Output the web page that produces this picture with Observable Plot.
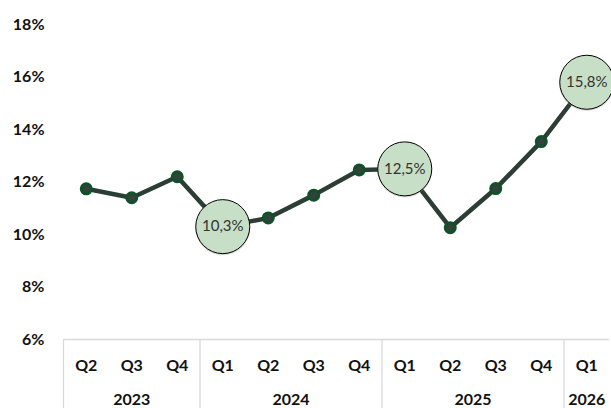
<!DOCTYPE html>
<html>
<head>
<meta charset="utf-8">
<script src="https://cdn.jsdelivr.net/npm/d3@7"></script>
<script src="https://cdn.jsdelivr.net/npm/@observablehq/plot@0.6"></script>
<style>
  html, body { margin: 0; padding: 0; background: #fff; }
  #chart svg { display: block; }
</style>
</head>
<body>
<div id="chart"></div>
<script>
const quarters = ["Q2","Q3","Q4","Q1","Q2","Q3","Q4","Q1","Q2","Q3","Q4","Q1"];
const years    = ["2023","2023","2023","2024","2024","2024","2024","2025","2025","2025","2025","2026"];
const values   = [11.74, 11.4, 12.2, 10.3, 10.63, 11.5, 12.46, 12.5, 10.26, 11.75, 13.54, 15.8];
const highlighted = [3, 7, 11];
const yTicks = [6, 8, 10, 12, 14, 16, 18];

const data = values.map((v, i) => ({i, q: quarters[i], year: years[i], v}));

// year groups: center and separators
const yearNames = [...new Set(years)];
const yearGroups = yearNames.map(y => {
  const idx = data.filter(d => d.year === y).map(d => d.i);
  return {year: y, center: d3.mean([d3.min(idx), d3.max(idx)]), start: d3.min(idx) - 0.5};
});
const separators = yearGroups.map(g => g.start);
const hi = data.filter(d => highlighted.includes(d.i));
const normal = data.filter(d => !highlighted.includes(d.i));
const fmt = v => v.toFixed(1).replace(".", ",") + "%";

const chart = Plot.plot({
  width: 611,
  height: 408,
  marginLeft: 63,
  marginRight: 2,
  marginTop: 24,
  marginBottom: 69,
  style: {fontFamily: "Lato, 'Open Sans', sans-serif", fontSize: "16px", fontWeight: "bold", color: "#111", background: "#fff"},
  x: {type: "linear", domain: [-0.5, 11.5]},
  y: {domain: [6, 18]},
  marks: [
    Plot.ruleY([6], {stroke: "#d9d9d9", strokeWidth: 1.3}),
    Plot.axisY(yTicks, {label: null, tickSize: 0, tickPadding: 19, tickFormat: d => d + "%", fontSize: 16, fontWeight: "bold", fill: "#111"}),
    Plot.axisX(separators, {label: null, tickSize: 69, tickFormat: () => "", stroke: "#d9d9d9", strokeWidth: 1.3}),
    Plot.axisX(d3.range(quarters.length), {label: null, tickSize: 0, tickPadding: 20, tickFormat: i => quarters[i], fontSize: 16, fontWeight: "bold", fill: "#111"}),
    Plot.axisX(yearGroups.map(g => g.center), {label: null, tickSize: 0, tickPadding: 54, tickFormat: c => yearGroups.find(g => g.center === c).year, fontSize: 16, fontWeight: "bold", fill: "#111"}),
    Plot.line(data, {x: "i", y: "v", stroke: "#2b3d35", strokeWidth: 4.5}),
    Plot.dot(normal, {x: "i", y: "v", r: 5, fill: "#36413d", stroke: "#0f5229", strokeWidth: 3}),
    Plot.dot(hi, {x: "i", y: "v", r: 27.5, fill: "#999", fillOpacity: 0.35, dy: 1.2}),
    Plot.dot(hi, {x: "i", y: "v", r: 27, fill: "#c6dfc6", stroke: "#000", strokeWidth: 1}),
    Plot.text(hi, {x: "i", y: "v", text: d => fmt(d.v), fontSize: 15, fontWeight: "normal", fill: "#333"})
  ]
});
document.getElementById("chart").appendChild(chart);
</script>
</body>
</html>
